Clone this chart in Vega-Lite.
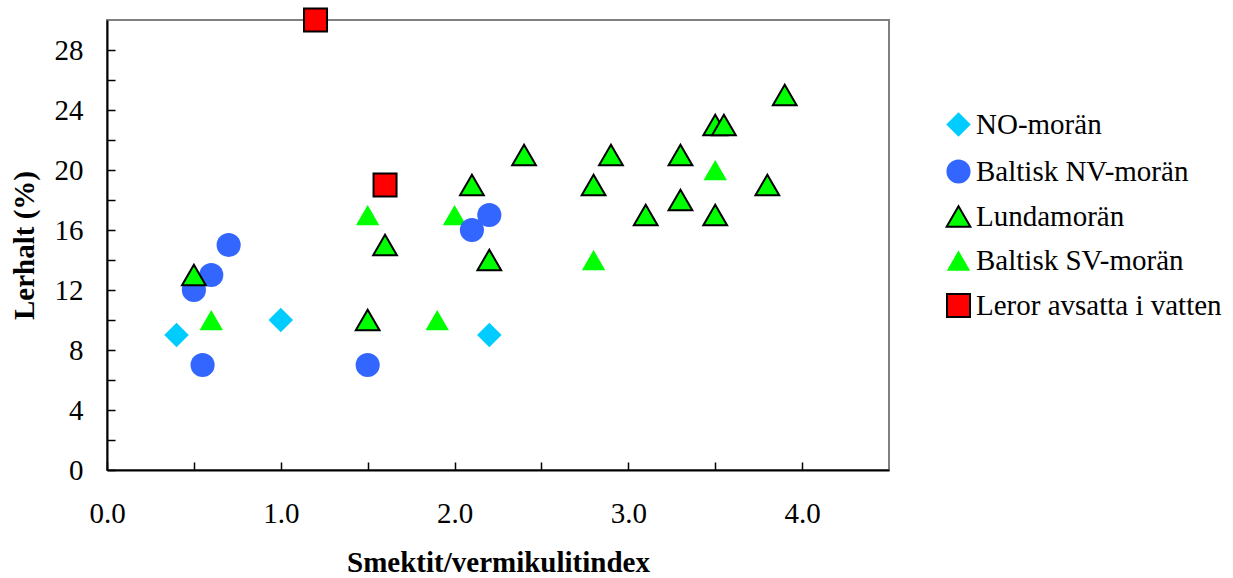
{
  "$schema": "https://vega.github.io/schema/vega-lite/v6.json",
  "autosize": "none",
  "width": 782,
  "height": 450,
  "padding": {"left": 107, "top": 20, "right": 344, "bottom": 108},
  "background": "white",
  "config": {
    "font": "Liberation Serif, Times New Roman, serif",
    "view": {"stroke": "#808080", "strokeWidth": 2}
  },
  "data": {
    "values": [
      {"series": "Baltisk SV-morän", "x": 0.6, "y": 10},
      {"series": "Baltisk SV-morän", "x": 1.5, "y": 17},
      {"series": "Baltisk SV-morän", "x": 1.9, "y": 10},
      {"series": "Baltisk SV-morän", "x": 2.0, "y": 17},
      {"series": "Baltisk SV-morän", "x": 2.8, "y": 14},
      {"series": "Baltisk SV-morän", "x": 3.5, "y": 20},
      {"series": "NO-morän", "x": 0.4, "y": 9},
      {"series": "NO-morän", "x": 1.0, "y": 10},
      {"series": "NO-morän", "x": 2.2, "y": 9},
      {"series": "Baltisk NV-morän", "x": 0.5, "y": 12},
      {"series": "Baltisk NV-morän", "x": 0.6, "y": 13},
      {"series": "Baltisk NV-morän", "x": 0.7, "y": 15},
      {"series": "Baltisk NV-morän", "x": 0.55, "y": 7},
      {"series": "Baltisk NV-morän", "x": 1.5, "y": 7},
      {"series": "Baltisk NV-morän", "x": 2.1, "y": 16},
      {"series": "Baltisk NV-morän", "x": 2.2, "y": 17},
      {"series": "Lundamorän", "x": 0.5, "y": 13},
      {"series": "Lundamorän", "x": 1.5, "y": 10},
      {"series": "Lundamorän", "x": 1.6, "y": 15},
      {"series": "Lundamorän", "x": 2.1, "y": 19},
      {"series": "Lundamorän", "x": 2.2, "y": 14},
      {"series": "Lundamorän", "x": 2.4, "y": 21},
      {"series": "Lundamorän", "x": 2.8, "y": 19},
      {"series": "Lundamorän", "x": 2.9, "y": 21},
      {"series": "Lundamorän", "x": 3.1, "y": 17},
      {"series": "Lundamorän", "x": 3.3, "y": 18},
      {"series": "Lundamorän", "x": 3.3, "y": 21},
      {"series": "Lundamorän", "x": 3.5, "y": 23},
      {"series": "Lundamorän", "x": 3.55, "y": 23},
      {"series": "Lundamorän", "x": 3.5, "y": 17},
      {"series": "Lundamorän", "x": 3.8, "y": 19},
      {"series": "Lundamorän", "x": 3.9, "y": 25},
      {"series": "Leror avsatta i vatten", "x": 1.2, "y": 30},
      {"series": "Leror avsatta i vatten", "x": 1.6, "y": 19}
    ]
  },
  "mark": {"type": "point", "filled": true, "opacity": 1, "strokeWidth": 2, "clip": false},
  "encoding": {
    "x": {
      "field": "x", "type": "quantitative",
      "scale": {"domain": [0, 4.5], "nice": false, "zero": false},
      "axis": {
        "title": "Smektit/vermikulitindex",
        "titleFont": "Liberation Serif, Times New Roman, serif", "titleFontSize": 29, "titleFontWeight": "bold", "titleColor": "black",
        "titlePadding": 20,
        "values": [0, 0.5, 1, 1.5, 2, 2.5, 3, 3.5, 4],
        "labelExpr": "datum.value % 1 === 0 ? format(datum.value, '.1f') : ''",
        "labelFont": "Liberation Serif, Times New Roman, serif", "labelFontSize": 29, "labelColor": "black",
        "labelPadding": 37,
        "tickSize": -8, "tickColor": "black", "tickWidth": 1.5,
        "domainColor": "black", "domainWidth": 2,
        "grid": false, "labelFlush": false
      }
    },
    "y": {
      "field": "y", "type": "quantitative",
      "scale": {"domain": [0, 30], "nice": false, "zero": false},
      "axis": {
        "title": "Lerhalt (%)",
        "titleFont": "Liberation Serif, Times New Roman, serif", "titleFontSize": 29, "titleFontWeight": "bold", "titleColor": "black",
        "titlePadding": 15,
        "values": [0, 2, 4, 6, 8, 10, 12, 14, 16, 18, 20, 22, 24, 26, 28],
        "labelExpr": "datum.value % 4 === 0 ? datum.label : ''",
        "labelFont": "Liberation Serif, Times New Roman, serif", "labelFontSize": 29, "labelColor": "black",
        "labelPadding": 32,
        "tickSize": -8, "tickColor": "black", "tickWidth": 1.5,
        "domainColor": "black", "domainWidth": 2,
        "grid": false
      }
    },
    "fill": {
      "field": "series", "type": "nominal",
      "scale": {
        "domain": ["NO-morän", "Baltisk NV-morän", "Lundamorän", "Baltisk SV-morän", "Leror avsatta i vatten"],
        "range": ["#00CCFF", "#3366FF", "#00FF00", "#00FF00", "#FF0000"]
      },
      "legend": {
        "title": null, "orient": "none", "legendX": 837, "legendY": 90,
        "labelFont": "Liberation Serif, Times New Roman, serif", "labelFontSize": 29, "labelColor": "black",
        "labelLimit": 400,
        "labelOffset": 3, "rowPadding": 14, "symbolStrokeWidth": 2
      }
    },
    "shape": {
      "field": "series", "type": "nominal",
      "scale": {
        "domain": ["NO-morän", "Baltisk NV-morän", "Lundamorän", "Baltisk SV-morän", "Leror avsatta i vatten"],
        "range": ["diamond", "circle", "triangle-up", "triangle-up", "square"]
      }
    },
    "size": {
      "field": "series", "type": "nominal",
      "scale": {
        "domain": ["NO-morän", "Baltisk NV-morän", "Lundamorän", "Baltisk SV-morän", "Leror avsatta i vatten"],
        "range": [600, 529, 420, 530, 330]
      }
    },
    "stroke": {
      "field": "series", "type": "nominal",
      "scale": {
        "domain": ["NO-morän", "Baltisk NV-morän", "Lundamorän", "Baltisk SV-morän", "Leror avsatta i vatten"],
        "range": ["transparent", "transparent", "black", "transparent", "black"]
      }
    }
  }
}
